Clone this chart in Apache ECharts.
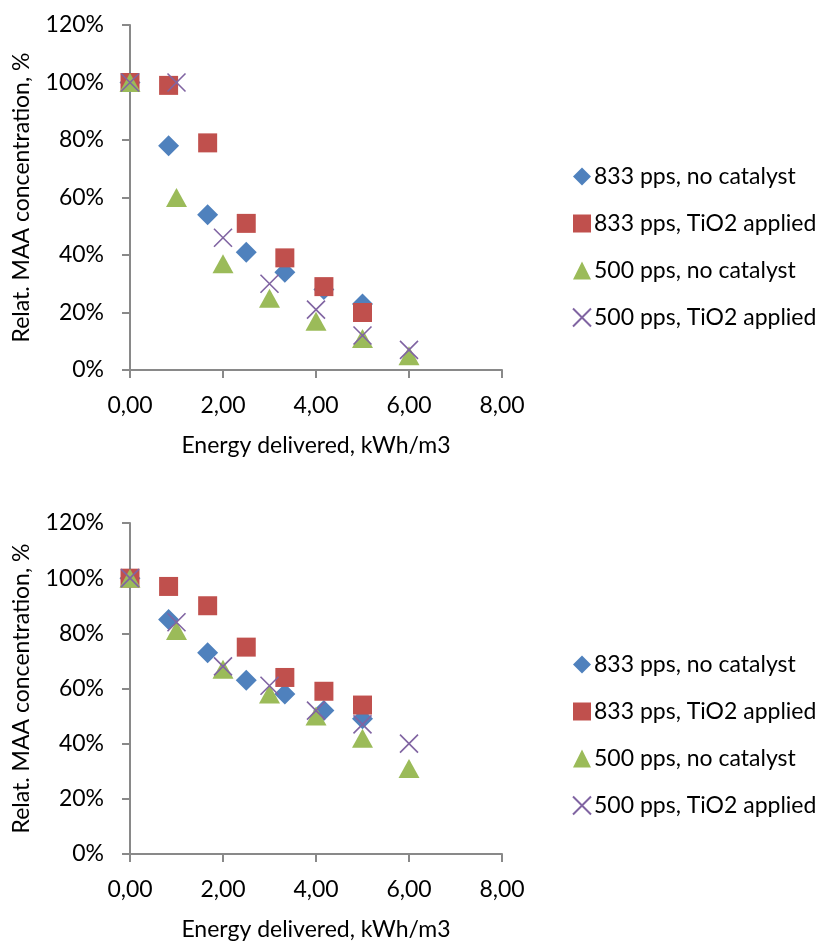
<!DOCTYPE html>
<html>
<head>
<meta charset="utf-8">
<script src="https://cdn.jsdelivr.net/npm/echarts@6/dist/echarts.min.js"></script>
<style>
  html, body { margin: 0; padding: 0; background: #fff; }
  #chart { width: 827px; height: 944px; }
</style>
</head>
<body>
<div id="chart"></div>
<script>
// energy delivered, kWh/m3
const energy833 = [0, 0.83, 1.67, 2.5, 3.33, 4.17, 5.0]
const energy500 = [0, 1, 2, 3, 4, 5, 6]

// top chart, relative MAA concentration %
const topNoCat833 = [100, 78, 54, 41, 34, 28, 23]
const topTiO2833 = [100, 99, 79, 51, 39, 29, 20]
const topNoCat500 = [100, 60, 37, 25, 17, 11, 5]
const topTiO2500 = [100, 100, 46, 30, 21, 12, 7]

// bottom chart
const botNoCat833 = [100, 85, 73, 63, 58, 52, 49]
const botTiO2833 = [100, 97, 90, 75, 64, 59, 54]
const botNoCat500 = [100, 81, 67, 58, 50, 42, 31]
const botTiO2500 = [100, 84, 68, 61, 52, 47, 40]

const seriesNames = ['833 pps, no catalyst', '833 pps, TiO2 applied', '500 pps, no catalyst', '500 pps, TiO2 applied']
const yTicks = [0, 20, 40, 60, 80, 100, 120]
const xTicks = [0, 2, 4, 6, 8]

const FONT = 'Lato'
const axisColor = '#898989'
const crossPath = 'path://M0,0L10,10M10,0L0,10'

const pairs = (xs, ys) => xs.map((x, i) => [x, ys[i]])

const styles = [
  { symbol: 'diamond', symbolSize: 21, itemStyle: { color: '#4F81BD', opacity: 1 } },
  { symbol: 'rect', symbolSize: 19, itemStyle: { color: '#C0504D', opacity: 1 } },
  { symbol: 'triangle', symbolSize: [21, 19], itemStyle: { color: '#9BBB59', opacity: 1 } },
  { symbol: crossPath, symbolSize: 18, itemStyle: { color: 'rgba(0,0,0,0)', borderColor: '#8064A2', borderWidth: 1.6, opacity: 1 } },
]

const makeSeries = (gridIdx, sets) => sets.map((ys, i) => ({
  name: seriesNames[i],
  type: 'scatter',
  xAxisIndex: gridIdx,
  yAxisIndex: gridIdx,
  data: pairs(i < 2 ? energy833 : energy500, ys),
  symbol: styles[i].symbol,
  symbolSize: styles[i].symbolSize,
  itemStyle: styles[i].itemStyle,
  emphasis: { disabled: true },
}))

const xAxisFor = (gridIdx) => ({
  type: 'value',
  gridIndex: gridIdx,
  min: xTicks[0],
  max: xTicks[xTicks.length - 1],
  interval: 2,
  name: 'Energy delivered, kWh/m3',
  nameLocation: 'middle',
  nameGap: 64,
  nameTextStyle: { fontFamily: FONT, fontSize: 23, color: '#000' },
  axisLine: { lineStyle: { color: axisColor, width: 2 } },
  axisTick: { show: true, inside: false, length: 8, lineStyle: { color: axisColor, width: 2 } },
  axisLabel: {
    margin: 24,
    fontFamily: FONT, fontSize: 23, color: '#000',
    formatter: v => v.toFixed(2).replace('.', ','),
  },
  splitLine: { show: false },
})

const yAxisFor = (gridIdx) => ({
  type: 'value',
  gridIndex: gridIdx,
  min: yTicks[0],
  max: yTicks[yTicks.length - 1],
  interval: 20,
  name: 'Relat. MAA concentration, %',
  nameLocation: 'middle',
  nameGap: 97,
  nameRotate: 90,
  nameTextStyle: { fontFamily: FONT, fontSize: 23, color: '#000' },
  axisLine: { show: true, lineStyle: { color: axisColor, width: 2 } },
  axisTick: { show: true, inside: false, length: 8, lineStyle: { color: axisColor, width: 2 } },
  axisLabel: {
    margin: 26,
    fontFamily: FONT, fontSize: 23, color: '#000',
    formatter: '{value}%',
  },
  splitLine: { show: false },
})

const legendFor = (top) => ({
  orient: 'vertical',
  left: 567,
  top: top,
  itemWidth: 18,
  itemHeight: 18,
  itemGap: 24,
  data: seriesNames,
  textStyle: { fontFamily: FONT, fontSize: 23, color: '#000', padding: [0, 0, 0, -2] },
  selectedMode: false,
})

const chart = echarts.init(document.getElementById('chart'))

chart.setOption({
  animation: false,
  backgroundColor: '#fff',
  grid: [
    { left: 130, top: 25, width: 372, height: 345 },
    { left: 130, top: 523, width: 372, height: 331 },
  ],
  xAxis: [xAxisFor(0), xAxisFor(1)],
  yAxis: [yAxisFor(0), yAxisFor(1)],
  legend: [legendFor(160), legendFor(648)],
  series: [
    ...makeSeries(0, [topNoCat833, topTiO2833, topNoCat500, topTiO2500]),
    ...makeSeries(1, [botNoCat833, botTiO2833, botNoCat500, botTiO2500]),
  ],
})
</script>
</body>
</html>
